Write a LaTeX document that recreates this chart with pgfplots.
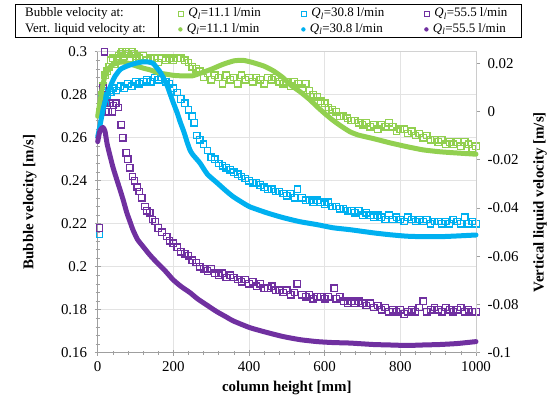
\documentclass[border=0pt]{standalone}
\usepackage{pgfplots}
\pgfplotsset{compat=1.18}
\usepackage{fontspec}
\setmainfont{Liberation Serif}
\definecolor{cg}{HTML}{92D050}
\definecolor{cb}{HTML}{00B0F0}
\definecolor{cp}{HTML}{7030A0}
\newcommand{\lsq}[1]{\tikz[baseline=-0.5bp]\draw[#1, line width=0.9bp] (0,0) rectangle (5bp,5bp);}
\newcommand{\ldot}[1]{\tikz[baseline=-0.5bp]\fill[#1] (2.5bp,2.5bp) circle (2.2bp);}
\begin{document}
\begin{tikzpicture}
\path[use as bounding box] (-97.7bp,-46.3bp) rectangle (450.3bp,352.7bp);
\pgfplotsset{
  common/.style={
    scale only axis, width=378.3bp, height=301bp,
    xmin=0, xmax=1000, clip=false,
    /pgf/number format/assume math mode=true,
    /pgf/number format/1000 sep={},
    scaled ticks=false,
    ticklabel style={font=\fontsize{15}{18}\selectfont},
    label style={font=\fontsize{15}{18}\selectfont\bfseries},
  },
  sq/.style={only marks, mark=square, mark size=3.2bp, line width=1.35bp},
  ln/.style={no marks, smooth, tension=0.35, line width=5bp, line join=round, line cap=round},
}
% ---------- left axis: bubble velocity ----------
\begin{axis}[common,
  ymin=0.16, ymax=0.3,
  xtick={0,200,400,600,800,1000},
  ytick={0.16,0.18,0.2,0.22,0.24,0.26,0.28,0.3},
  minor x tick num=4, minor y tick num=4,
  xtick pos=bottom, ytick pos=left,
  grid=major, major grid style={gray!22, line width=0.6bp},
  axis line style={gray!35, line width=0.7bp},
  tick style={gray!75, line width=0.6bp},
  major tick length=6bp, minor tick length=4bp, tick align=center,
  yticklabel style={/pgf/number format/fixed, xshift=-4bp},
  xticklabel style={yshift=-2bp},
  xlabel={column height [mm]},
  ylabel={Bubble velocity [m/s]},
  xlabel style={at={(axis description cs:0.5,-0.1173)}, anchor=center},
  ylabel style={at={(axis description cs:-0.1797,0.5)}, anchor=center},
]
\addplot[sq, cg, mark options={draw=cg, fill=none}] coordinates {
(5,0.272)(10,0.280)(15,0.284)(20,0.289)(25,0.291)(30,0.293)(35,0.296)(40,0.297)(45,0.294)(50,0.296)
(55,0.298)(60,0.299)(65,0.300)(70,0.298)(75,0.300)(80,0.299)(85,0.297)(90,0.300)(95,0.299)(100,0.298)
(110,0.297)(120,0.298)(130,0.296)(140,0.297)(150,0.297)(160,0.295)(170,0.297)(180,0.296)(190,0.297)(200,0.296)
(210,0.297)(220,0.297)(230,0.296)(240,0.295)(250,0.293)(260,0.292)(270,0.291)(280,0.288)(290,0.290)(300,0.287)
(310,0.289)(320,0.288)(330,0.285)(340,0.289)(350,0.287)(360,0.288)(370,0.285)(380,0.289)(390,0.287)(400,0.288)
(410,0.286)(420,0.288)(430,0.287)(440,0.285)(450,0.288)(460,0.287)(470,0.288)(480,0.286)(490,0.285)(500,0.286)
(510,0.284)(520,0.286)(530,0.285)(540,0.283)(550,0.285)(560,0.282)(570,0.280)(580,0.279)(590,0.277)(600,0.276)
(610,0.274)(620,0.273)(630,0.272)(640,0.270)(650,0.270)(660,0.269)(670,0.268)(680,0.268)(690,0.267)(700,0.266)
(710,0.267)(720,0.265)(730,0.266)(740,0.264)(750,0.266)(760,0.265)(770,0.267)(780,0.265)(790,0.263)(800,0.264)
(810,0.264)(820,0.262)(830,0.263)(840,0.261)(850,0.262)(860,0.260)(870,0.261)(880,0.259)(890,0.259)(900,0.258)
(910,0.259)(920,0.257)(930,0.258)(940,0.257)(950,0.258)(960,0.256)(970,0.258)(980,0.257)(990,0.255)(1000,0.256)
};
\addplot[sq, cb, mark options={draw=cb, fill=none}] coordinates {
(5,0.215)(10,0.278)(15,0.281)(20,0.276)(25,0.280)(30,0.282)(35,0.281)(40,0.283)(50,0.282)(60,0.284)
(70,0.283)(80,0.285)(90,0.284)(100,0.286)(110,0.285)(120,0.286)(130,0.287)(140,0.286)(150,0.288)(160,0.287)
(170,0.288)(180,0.286)(190,0.285)(200,0.283)(210,0.281)(220,0.278)(230,0.276)(240,0.273)(250,0.270)(255,0.267)
(262,0.261)(270,0.259)(280,0.257)(290,0.254)(300,0.251)(310,0.250)(320,0.248)(330,0.247)(340,0.246)(350,0.245)
(360,0.244)(370,0.243)(380,0.242)(390,0.241)(400,0.240)(410,0.239)(420,0.239)(430,0.238)(440,0.237)(450,0.236)
(460,0.236)(470,0.235)(480,0.235)(490,0.234)(500,0.233)(510,0.234)(520,0.232)(528,0.236)(540,0.232)(550,0.231)
(560,0.231)(570,0.230)(580,0.231)(590,0.230)(600,0.229)(610,0.230)(620,0.228)(630,0.228)(640,0.227)(650,0.227)
(660,0.226)(670,0.226)(680,0.225)(690,0.226)(700,0.224)(710,0.225)(720,0.224)(730,0.223)(740,0.224)(750,0.223)
(760,0.222)(770,0.224)(780,0.222)(790,0.223)(800,0.222)(810,0.221)(820,0.223)(830,0.222)(840,0.221)(850,0.222)
(860,0.221)(870,0.222)(880,0.220)(890,0.221)(900,0.221)(910,0.220)(920,0.221)(930,0.220)(940,0.222)(950,0.221)
(960,0.220)(970,0.223)(980,0.220)(990,0.221)(1000,0.220)
};
\addplot[sq, cp, mark options={draw=cp, fill=none}] coordinates {
(5,0.218)(10,0.274)(15,0.283)(18,0.300)(22,0.276)(28,0.272)(33,0.276)(38,0.272)(42,0.275)(48,0.276)
(55,0.274)(62,0.266)(66,0.260)(75,0.253)(80,0.250)(85,0.246)(92,0.242)(97,0.240)(104,0.237)(110,0.235)
(117,0.232)(125,0.228)(130,0.226)(138,0.225)(145,0.222)(152,0.221)(160,0.218)(170,0.216)(183,0.214)(190,0.212)
(200,0.211)(210,0.209)(220,0.207)(230,0.206)(240,0.205)(250,0.203)(260,0.202)(270,0.200)(280,0.199)(290,0.198)
(300,0.199)(310,0.197)(320,0.196)(330,0.197)(340,0.195)(350,0.196)(360,0.195)(370,0.194)(380,0.193)(390,0.194)
(400,0.192)(410,0.193)(420,0.191)(430,0.192)(440,0.190)(450,0.190)(460,0.191)(470,0.189)(480,0.189)(490,0.188)
(500,0.189)(510,0.187)(520,0.188)(527,0.192)(540,0.187)(550,0.186)(560,0.187)(570,0.185)(580,0.186)(590,0.186)
(600,0.185)(610,0.186)(625,0.190)(630,0.185)(640,0.186)(650,0.184)(660,0.183)(670,0.184)(680,0.183)(690,0.184)
(700,0.183)(710,0.182)(720,0.183)(730,0.181)(740,0.182)(750,0.180)(760,0.181)(770,0.179)(780,0.180)(790,0.179)
(800,0.180)(810,0.178)(820,0.179)(830,0.180)(840,0.179)(850,0.181)(860,0.184)(870,0.179)(880,0.180)(890,0.181)
(900,0.180)(910,0.179)(920,0.181)(930,0.180)(940,0.179)(950,0.180)(960,0.181)(970,0.179)(980,0.180)(990,0.179)(1000,0.179)
};
\draw[gray!75, line width=0.7bp] (rel axis cs:0,1) -- (rel axis cs:0,0) -- (rel axis cs:1,0);
\end{axis}
% ---------- right axis: vertical liquid velocity ----------
\begin{axis}[common,
  ymin=-0.1, ymax=0.0248,
  axis x line=none, axis y line*=right,
  ytick={-0.1,-0.08,-0.06,-0.04,-0.02,0,0.02},
  yticklabel style={/pgf/number format/fixed, xshift=4bp},
  axis line style={gray!40, line width=0.7bp},
  tick style={gray!75, line width=0.6bp},
  major tick length=4bp, tick align=outside,
  ylabel={Vertical liquid velocity [m/s]},
  ylabel style={at={(axis description cs:1.169,0.5)}, anchor=center},
]
\addplot[ln, cg] coordinates {
(0,-0.002)(5,0.003)(10,0.008)(15,0.012)(20,0.015)(30,0.018)(40,0.0195)(50,0.020)(60,0.0205)(70,0.0205)
(80,0.020)(100,0.019)(120,0.018)(140,0.0172)(160,0.016)(180,0.0155)(200,0.015)(220,0.0148)(250,0.0148)(270,0.0158)
(300,0.0175)(330,0.0195)(360,0.021)(385,0.0212)(410,0.0203)(440,0.0188)(465,0.0168)(490,0.014)(510,0.011)(535,0.0082)
(560,0.005)(580,0.002)(600,-0.0008)(620,-0.0034)(641,-0.0058)(667,-0.0084)(690,-0.0098)(728,-0.0112)(773,-0.0130)(818,-0.0146)
(860,-0.0159)(905,-0.0167)(950,-0.0172)(1000,-0.0177)
};
\addplot[ln, cb] coordinates {
(0,-0.0105)(5,-0.0067)(15,0.0015)(25,0.0069)(35,0.011)(45,0.0144)(60,0.0175)(80,0.0190)(100,0.0200)(120,0.0206)
(135,0.0205)(146,0.020)(157,0.018)(165,0.0164)(175,0.0135)(183,0.011)(191,0.0075)(199,0.004)(210,-0.0005)(218,-0.0043)
(228,-0.0085)(236,-0.0125)(244,-0.016)(252,-0.018)(270,-0.0213)(290,-0.026)(315,-0.0295)(340,-0.033)(358,-0.0353)(380,-0.0375)
(402,-0.0395)(447,-0.042)(490,-0.044)(535,-0.0457)(580,-0.0469)(622,-0.0482)(667,-0.049)(728,-0.0503)(773,-0.0511)(818,-0.0517)
(860,-0.0519)(905,-0.0519)(950,-0.0516)(1000,-0.0512)
};
\addplot[ln, cp] coordinates {
(0,-0.0125)(5,-0.0085)(10,-0.007)(14,-0.0066)(19,-0.008)(25,-0.0135)(32,-0.018)(40,-0.0229)(50,-0.028)(59,-0.0324)
(68,-0.037)(77,-0.042)(85,-0.0455)(93,-0.049)(105,-0.053)(120,-0.056)(138,-0.0595)(157,-0.0627)(178,-0.066)(199,-0.0697)
(220,-0.0725)(244,-0.0751)(265,-0.0778)(289,-0.0803)(315,-0.0830)(340,-0.0852)(358,-0.0868)(402,-0.0896)(447,-0.0916)(490,-0.0933)
(535,-0.0946)(580,-0.0954)(622,-0.0958)(667,-0.0960)(728,-0.0966)(773,-0.0968)(818,-0.0970)(860,-0.0968)(905,-0.0966)(950,-0.0962)(1000,-0.0954)
};
\end{axis}
% ---------- legend ----------
\begin{scope}[x=1bp, y=-1bp, shift={(-97.7bp,352.7bp)}, every node/.style={font=\fontsize{13}{15}\selectfont, inner sep=0pt}]
\draw[black, line width=0.6bp] (15,4) rectangle (521,37);
\draw[black, line width=0.6bp] (158,4) -- (158,37);
\node[anchor=west] at (25,13.5) {Bubble velocity at:};
\node[anchor=west] at (25,29) {Vert. liquid velocity at:};
\foreach \xx/\cc/\vv in {178/cg/11.1, 301/cb/30.8, 424/cp/55.5}{
  \node[anchor=west] at (\xx,13.5) {\lsq{\cc}\,\,\textit{Q}\textsubscript{\textit{l}}=\vv\ l/min};
  \node[anchor=west] at (\xx,29) {\ldot{\cc}\,\,\textit{Q}\textsubscript{\textit{l}}=\vv\ l/min};
}
\end{scope}
\end{tikzpicture}
\end{document}
